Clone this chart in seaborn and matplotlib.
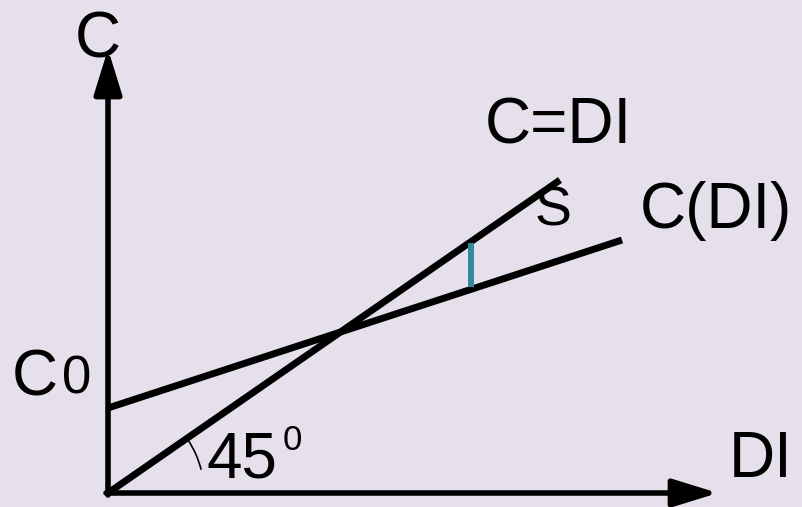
"""
Keynesian consumption diagram: C = DI (45 degree line) vs C(DI).
"""

import matplotlib.pyplot as plt
from matplotlib.patches import Arc
import seaborn as sns

# chart values (origin of the diagram at (0, 0))
line45_di = [0, 452]
line45_c = [0, 313]
cons_di = [0, 514]
cons_c = [85, 253]
saving_di = [363, 363]
saving_c = [206, 250]
axis_x_end = 610
axis_y_end = 444

BG = "#e5e0ec"
TEAL = "#31899b"
FONT = "Liberation Sans"


def main():
    sns.set_style("white")
    plt.rcParams["font.family"] = [FONT, "DejaVu Sans"]
    plt.rcParams["text.color"] = "black"

    fig = plt.figure(figsize=(8.02, 5.07), dpi=100)
    fig.patch.set_facecolor(BG)
    ax = fig.add_axes([0, 0, 1, 1])
    ax.set_facecolor(BG)
    ax.set_xlim(-108, 694)
    ax.set_ylim(-14, 493)
    ax.axis("off")

    # axes with arrows
    arrow = dict(arrowstyle="-|>,head_length=0.55,head_width=0.17",
                 mutation_scale=50, lw=4, color="black",
                 shrinkA=0, shrinkB=0)
    ax.annotate("", xy=(0, axis_y_end), xytext=(0, -2), arrowprops=arrow)
    ax.annotate("", xy=(axis_x_end, 0), xytext=(-2, 0), arrowprops=arrow)

    sns.lineplot(x=line45_di, y=line45_c, ax=ax, color="black",
                 linewidth=5, solid_capstyle="butt")
    sns.lineplot(x=cons_di, y=cons_c, ax=ax, color="black",
                 linewidth=5, solid_capstyle="butt")
    sns.lineplot(x=saving_di, y=saving_c, ax=ax, color=TEAL,
                 linewidth=4.3, solid_capstyle="butt",
                 estimator=None, sort=False)

    ax.add_patch(Arc((0, 0), 192, 192, theta1=14, theta2=34,
                     color="black", lw=1.2))

    big = 46
    ax.text(-10, 435, "C", fontsize=big, ha="center", va="baseline")
    ax.text(377, 350, "C=DI", fontsize=big, va="baseline")
    ax.text(532, 265, "C(DI)", fontsize=big, va="baseline")
    ax.text(427, 268, "S", fontsize=40, va="baseline")
    ax.text(-96, 98, "C", fontsize=big, va="baseline")
    ax.text(-46, 99, "0", fontsize=38, va="baseline")
    ax.text(99, 15, "45", fontsize=big, va="baseline")
    ax.text(175, 43, "0", fontsize=25, va="baseline")
    ax.text(621, 16, "DI", fontsize=big, va="baseline")

    plt.savefig("out.png", dpi=100, facecolor=BG)
    plt.close()


if __name__ == "__main__":
    main()
